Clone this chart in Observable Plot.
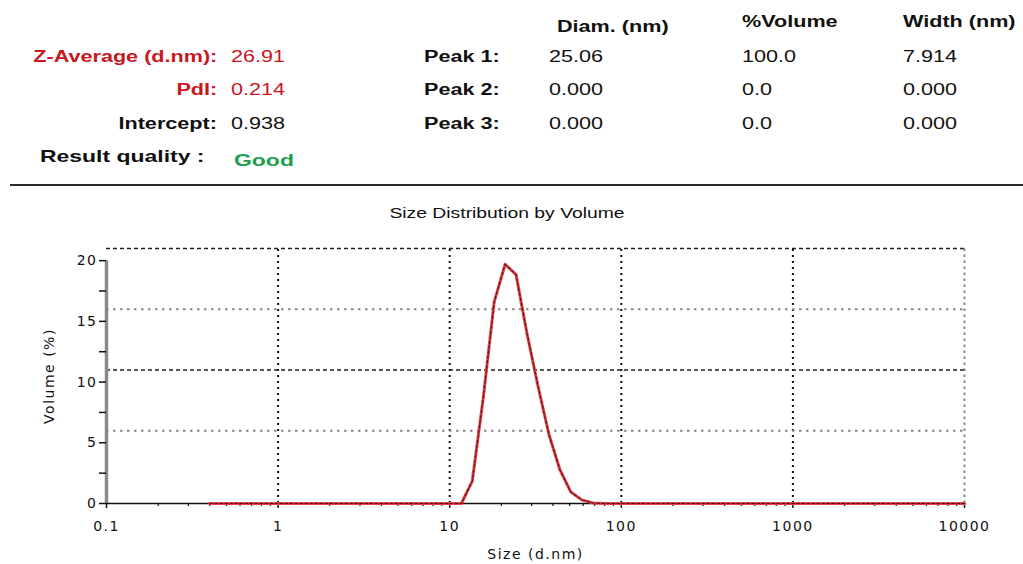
<!DOCTYPE html>
<html>
<head>
<meta charset="utf-8">
<script src="https://cdn.jsdelivr.net/npm/d3@7"></script>
<script src="https://cdn.jsdelivr.net/npm/@observablehq/plot@0.6"></script>
<style>
  html, body { margin: 0; padding: 0; background: #fff; }
  #wrap { position: relative; width: 1023px; height: 564px; overflow: hidden; background: #fff; }
  .t { position: absolute; white-space: nowrap; line-height: 1;
       font-family: "Liberation Sans", Arial, sans-serif; font-size: 16px; color: #111;
       transform: translateY(-50%) scaleX(1.35); transform-origin: left center; }
  .t.end { transform-origin: right center; }
  .b { font-weight: bold; }
  .big { font-size: 17px; }
  .red { color: #c8161e; }
  .green { color: #1f9e4e; }
  .title { font-size: 14px; transform: translate(-50%, -50%) scaleX(1.38); transform-origin: center center; }
  #rule { position: absolute; left: 10px; right: 0; top: 184px; height: 2px; background: #2a2a2a; }
  #chart { position: absolute; left: 0; top: 190px; }
</style>
</head>
<body>
<div id="wrap"><div id="rule"></div><div id="chart"></div></div>
<script>
// ---- Header table data ----
const summaryLabels = ["Z-Average (d.nm):", "PdI:", "Intercept:"];
const summaryValues = ["26.91", "0.214", "0.938"];
const qualityLabel = "Result quality :";
const qualityValue = "Good";
const columnHeads = ["Diam. (nm)", "%Volume", "Width (nm)"];
const peakLabels = ["Peak 1:", "Peak 2:", "Peak 3:"];
const peakDiam = ["25.06", "0.000", "0.000"];
const peakVolume = ["100.0", "0.0", "0.0"];
const peakWidth = ["7.914", "0.000", "0.000"];
const chartTitle = "Size Distribution by Volume";

// ---- Size distribution data (size in d.nm, volume in %) ----
const sizes   = [0.4, 10.1, 11.7, 13.54, 15.69, 18.17, 21.04, 24.36, 28.21, 32.67, 37.84, 43.82, 50.75, 58.77, 68.06, 78.82, 10000];
const volumes = [0,   0,    0,    1.85,  8.7,   16.6,  19.7,  18.85, 14.0,  9.7,   5.7,   2.8,   0.96,  0.3,   0.05,  0,     0];

// ---- Axis / grid values ----
const xTicks = [0.1, 1, 10, 100, 1000, 10000];
const xTickLabels = ["0.1", "1", "10", "100", "1000", "10000"];
const xMinor = [0.2,0.3,0.4,0.5,0.6,0.7,0.8,0.9, 2,3,4,5,6,7,8,9, 20,30,40,50,60,70,80,90, 200,300,400,500,600,700,800,900, 2000,3000,4000,5000,6000,7000,8000,9000];
const yTicks = [0, 5, 10, 15, 20];
const yMinor = [2.5, 7.5, 12.5, 17.5];
const gridXDark = [1, 10, 100, 1000];
const gridXLight = [10000];
const gridYDashed = [11, 21];
const gridYDotted = [6, 16];
const xDomain = [0.1, 10000];
const yDomain = [0, 21];
const yAxisTop = 20;

// ---- Header layout ----
const wrap = document.getElementById("wrap");
function put(text, x, y, cls, anchor) {
  const el = document.createElement("div");
  el.className = "t " + cls + (anchor === "end" ? " end" : "");
  el.textContent = text;
  el.style.top = y + "px";
  if (anchor === "end") el.style.right = (1023 - x) + "px";
  else el.style.left = x + "px";
  wrap.appendChild(el);
  return el;
}
const rowY = [57, 90, 124];
summaryLabels.forEach((s, i) => put(s, 217, rowY[i], "b" + (i < 2 ? " red" : ""), "end"));
summaryValues.forEach((s, i) => put(s, 231, rowY[i], i < 2 ? "red" : "", "start"));
put(qualityLabel, 40, 156, "b big", "start");
put(qualityValue, 234, 160, "b green big", "start");
peakLabels.forEach((s, i) => put(s, 424, rowY[i], "b", "start"));
const colX = [549, 742, 903];
put(columnHeads[0], 557, 27, "b", "start");
put(columnHeads[1], 742, 22, "b", "start");
put(columnHeads[2], 903, 22, "b", "start");
[peakDiam, peakVolume, peakWidth].forEach((col, c) =>
  col.forEach((s, i) => put(s, colX[c], rowY[i], "", "start")));
put(chartTitle, 507, 213, "title", "start");

// ---- Chart ----
const data = sizes.map((s, i) => ({size: s, vol: volumes[i]}));
const plot = Plot.plot({
  width: 1023,
  height: 374,
  marginLeft: 106,
  marginRight: 59,
  marginTop: 58,
  marginBottom: 61,
  x: {type: "log", domain: xDomain},
  y: {domain: yDomain},
  style: {fontFamily: "'DejaVu Sans', sans-serif", fontSize: "14px", color: "#111", background: "transparent", letterSpacing: "1.5px"},
  marks: [
    Plot.ruleX(gridXDark, {y1: yDomain[0], y2: yDomain[1], stroke: "#111", strokeWidth: 2, strokeDasharray: "2,4"}),
    Plot.ruleX(gridXLight, {y1: yDomain[0], y2: yDomain[1], stroke: "#888", strokeWidth: 2, strokeDasharray: "2.5,3.5"}),
    Plot.ruleY(gridYDashed, {x1: xDomain[0], x2: xDomain[1], stroke: "#222", strokeWidth: 1.6, strokeDasharray: "4,3"}),
    Plot.ruleY(gridYDotted, {x1: xDomain[0], x2: xDomain[1], stroke: "#888", strokeWidth: 2, strokeDasharray: "2.5,4.5"}),
    Plot.ruleX([xDomain[0]], {y1: 0, y2: yAxisTop, stroke: "#8a8a8a", strokeWidth: 3.5}),
    Plot.ruleY([0], {x1: xDomain[0], x2: xDomain[1], stroke: "#111", strokeWidth: 1.5}),
    Plot.axisY({ticks: yTicks, tickSize: 7, tickPadding: 2, strokeWidth: 1.5, label: "Volume (%)", labelAnchor: "center", labelArrow: "none", labelOffset: 62, fontSize: 14}),
    Plot.axisY(yMinor, {tickSize: 7, strokeWidth: 1.5, tickFormat: () => "", label: null}),
    Plot.axisX({ticks: xTicks, tickFormat: d => xTickLabels[xTicks.indexOf(d)], tickSize: 5, tickPadding: 13, strokeWidth: 1.5, label: "Size (d.nm)", labelAnchor: "center", labelArrow: "none", labelOffset: 55}),
    Plot.axisX(xMinor, {tickSize: 3, strokeWidth: 1.2, tickFormat: () => "", label: null}),
    Plot.line(data, {x: "size", y: "vol", stroke: "#e2434b", strokeWidth: 3, strokeLinejoin: "round"}),
    Plot.line(data, {x: "size", y: "vol", stroke: "#5a1212", strokeWidth: 1.1, strokeDasharray: "3,2"})
  ]
});
document.getElementById("chart").appendChild(plot);
</script>
</body>
</html>
